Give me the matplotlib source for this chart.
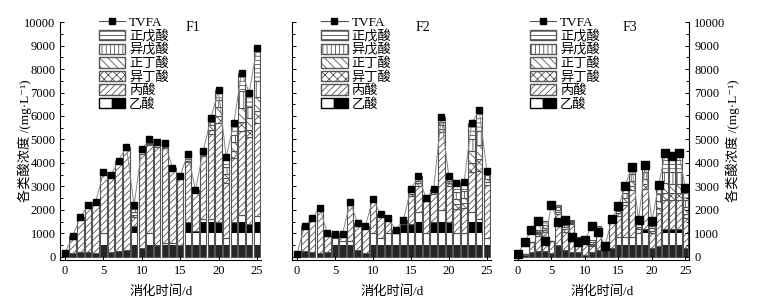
import numpy as np
import matplotlib
matplotlib.use('Agg')
import matplotlib.pyplot as plt
from matplotlib.patches import Patch
from matplotlib.lines import Line2D
from matplotlib.legend_handler import HandlerTuple
from matplotlib.ticker import MultipleLocator

plt.rcParams['font.family'] = ['Liberation Serif', 'Noto Sans CJK SC', 'DejaVu Sans']
plt.rcParams['hatch.linewidth'] = 0.6

days = np.arange(26)

# F1 (mg/L)
f1_tvfa = [150, 900, 1700, 2200, 2350, 3600, 3500, 4100, 4700, 2200, 4600, 5000, 4900,
           4850, 3800, 3450, 4400, 2850, 4500, 5900, 7100, 4250, 5700, 7850, 7000, 8900]
f1_ace = [100, 150, 200, 200, 150, 1000, 200, 250, 300, 1300, 400, 1000, 500,
          600, 600, 500, 1500, 1100, 1600, 1600, 1500, 800, 1500, 1800, 1400, 1750]
f1_pro = [50, 750, 1500, 2000, 2200, 2600, 3300, 3850, 4400, 400, 4000, 3750, 4200,
          4050, 3200, 2950, 2550, 1750, 2700, 3650, 4200, 2350, 2700, 3550, 3700, 3950]
f1_ibu = [0, 0, 0, 0, 0, 0, 0, 0, 0, 100, 50, 50, 50, 50, 0, 0, 50, 0, 50, 150, 300, 200, 300, 400, 300, 500]
f1_nbu = [0, 0, 0, 0, 0, 0, 0, 0, 0, 100, 50, 50, 50, 50, 0, 0, 50, 0, 50, 200, 400, 200, 400, 600, 500, 600]
f1_iva = [0, 0, 0, 0, 0, 0, 0, 0, 0, 150, 50, 50, 50, 50, 0, 0, 100, 0, 50, 150, 300, 300, 300, 700, 500, 700]
f1_nva = [0, 0, 0, 0, 0, 0, 0, 0, 0, 150, 50, 100, 50, 50, 0, 0, 150, 0, 50, 150, 400, 400, 500, 800, 600, 1400]

# F2
f2_tvfa = [130, 1300, 1650, 2100, 1000, 980, 980, 2350, 1430, 1300, 2470, 1830, 1650,
           1160, 1570, 2900, 3430, 2500, 2900, 5960, 3430, 3150, 3200, 5700, 6250, 3670]
f2_ace = [100, 250, 200, 150, 200, 800, 700, 700, 300, 150, 1000, 800, 1000,
          1000, 1400, 1400, 1900, 1000, 1500, 2000, 1500, 1000, 1000, 1900, 1600, 800]
f2_pro = [30, 1050, 1450, 1950, 800, 180, 280, 1650, 1130, 1150, 1470, 1030, 650,
          160, 170, 1200, 1130, 1500, 1200, 3310, 1530, 1050, 1100, 1700, 2050, 2270]
f2_ibu = [0, 0, 0, 0, 0, 0, 0, 0, 0, 0, 0, 0, 0, 0, 0, 100, 100, 0, 50, 150, 100, 200, 200, 400, 500, 100]
f2_nbu = [0, 0, 0, 0, 0, 0, 0, 0, 0, 0, 0, 0, 0, 0, 0, 100, 100, 0, 50, 150, 100, 200, 200, 500, 600, 150]
f2_iva = [0, 0, 0, 0, 0, 0, 0, 0, 0, 0, 0, 0, 0, 0, 0, 50, 100, 0, 50, 150, 100, 300, 300, 500, 600, 150]
f2_nva = [0, 0, 0, 0, 0, 0, 0, 0, 0, 0, 0, 0, 0, 0, 0, 50, 100, 0, 50, 200, 100, 400, 400, 700, 900, 200]

# F3 (bars lag the TVFA markers by a day in the early part of the run)
f3_tvfa = [130, 630, 1160, 1550, 670, 2220, 1480, 1590, 860, 650, 720, 1330, 1050,
           480, 1600, 2150, 3030, 3840, 1590, 3900, 1520, 3080, 4430, 4310, 4410, 2940]
f3_ace = [50, 100, 200, 250, 250, 150, 500, 300, 200, 200, 100, 200, 300,
          400, 400, 850, 850, 850, 1000, 1200, 400, 450, 1200, 1200, 1200, 400]
f3_pro = [50, 30, 430, 660, 800, 520, 1320, 780, 1190, 460, 500, 270, 780,
          80, 1150, 900, 1380, 1990, 190, 1700, 620, 1430, 1230, 1210, 1210, 1240]
f3_ibu = [0, 0, 0, 50, 100, 0, 100, 100, 50, 50, 0, 50, 50, 0, 0, 100, 100, 200, 100, 200, 100, 200, 300, 300, 300, 200]
f3_nbu = [0, 0, 0, 50, 100, 0, 100, 100, 50, 50, 0, 50, 50, 0, 0, 100, 200, 200, 100, 200, 100, 300, 400, 400, 400, 300]
f3_iva = [0, 0, 0, 50, 100, 0, 100, 100, 50, 50, 0, 50, 50, 0, 0, 100, 200, 300, 100, 300, 100, 300, 500, 500, 500, 300]
f3_nva = [0, 0, 0, 100, 200, 0, 100, 100, 50, 50, 50, 100, 100, 0, 50, 100, 300, 300, 100, 300, 200, 400, 800, 700, 800, 500]

hatches = ['/////', 'xxxx', '\\\\\\\\', '||||', '----']
panels = [
    ('F1', f1_tvfa, f1_ace, [f1_pro, f1_ibu, f1_nbu, f1_iva, f1_nva]),
    ('F2', f2_tvfa, f2_ace, [f2_pro, f2_ibu, f2_nbu, f2_iva, f2_nva]),
    ('F3', f3_tvfa, f3_ace, [f3_pro, f3_ibu, f3_nbu, f3_iva, f3_nva]),
]

edge = '#555555'
width = 0.85
band_colors = ['#262626', 'white', 'black', 'white']

fig = plt.figure(figsize=(7.67, 3.05), dpi=100)
rects = [[0.0788, 0.1475, 0.2621, 0.7803],
         [0.3812, 0.1475, 0.2595, 0.7803],
         [0.6701, 0.1475, 0.2288, 0.7803]]
leg_x = [0.19, 0.145, 0.09]
msize = [5.0, 5.0, 6.0]

for i, (tag, tvfa, ace, others) in enumerate(panels):
    ax = fig.add_axes(rects[i])
    ace = np.array(ace, dtype=float)
    # acetic acid drawn in coarse black/white bands
    for k, c in enumerate(band_colors):
        seg = np.clip(ace - 500 * k, 0, 500)
        ax.bar(days, seg, width, bottom=500 * k, color=c, linewidth=0)
    ax.bar(days, ace, width, facecolor='none', edgecolor=edge, linewidth=0.8)
    bottom = ace.copy()
    for vals, h in zip(others, hatches):
        vals = np.array(vals, dtype=float)
        ax.bar(days, vals, width, bottom=bottom, facecolor='white',
               edgecolor=edge, hatch=h, linewidth=0.8)
        bottom += vals
    ax.plot(days, tvfa, color='#888888', lw=0.7, marker='s', ms=msize[i],
            mfc='black', mec='black', zorder=5)

    ax.set_xlim(-0.6, 25.6)
    ax.set_ylim(-130, 10000)
    ax.set_xticks(range(0, 26, 5))
    ax.yaxis.set_major_locator(MultipleLocator(1000))
    ax.yaxis.set_minor_locator(MultipleLocator(500))
    ax.tick_params(which='both', direction='in', labelsize=9, width=0.7)
    ax.tick_params(which='major', length=3)
    ax.tick_params(which='minor', length=2)
    ax.spines['top'].set_visible(False)
    for s in ax.spines.values():
        s.set_linewidth(0.8)
    if i == 2:
        ax.spines['left'].set_visible(False)
        ax.yaxis.tick_right()
    else:
        ax.spines['right'].set_visible(False)
    if i == 1:
        ax.tick_params(axis='y', labelleft=False)
    ax.set_xlabel('消化时间/d', fontsize=9.5, labelpad=6)
    ax.text(0.62, 0.975, tag, transform=ax.transAxes, fontsize=10, va='center')

    handles = [
        Line2D([], [], color='#555555', lw=0.8, marker='s', ms=4, mfc='black', mec='black'),
        Patch(facecolor='white', edgecolor=edge, hatch=hatches[4]),
        Patch(facecolor='white', edgecolor=edge, hatch=hatches[3]),
        Patch(facecolor='white', edgecolor=edge, hatch=hatches[2]),
        Patch(facecolor='white', edgecolor=edge, hatch=hatches[1]),
        Patch(facecolor='white', edgecolor=edge, hatch=hatches[0]),
        (Patch(facecolor='white', edgecolor='black'), Patch(facecolor='black', edgecolor='black')),
    ]
    labels = ['TVFA', '正戊酸', '异戊酸', '正丁酸', '异丁酸', '丙酸', '乙酸']
    ax.legend(handles, labels, loc='upper left', bbox_to_anchor=(leg_x[i], 1.025),
              frameon=False, fontsize=9.5, handlelength=2.0, handleheight=0.85,
              labelspacing=0.05, handletextpad=0.3, borderpad=0, borderaxespad=0,
              handler_map={tuple: HandlerTuple(ndivide=None, pad=0)})

ylab = '各类酸浓度 /(mg·L⁻¹)'
fig.text(0.032, 0.54, ylab, rotation=90, ha='center', va='center', fontsize=9.5)
fig.text(0.955, 0.54, ylab, rotation=90, ha='center', va='center', fontsize=9.5)

fig.savefig('out.png', dpi=100)
